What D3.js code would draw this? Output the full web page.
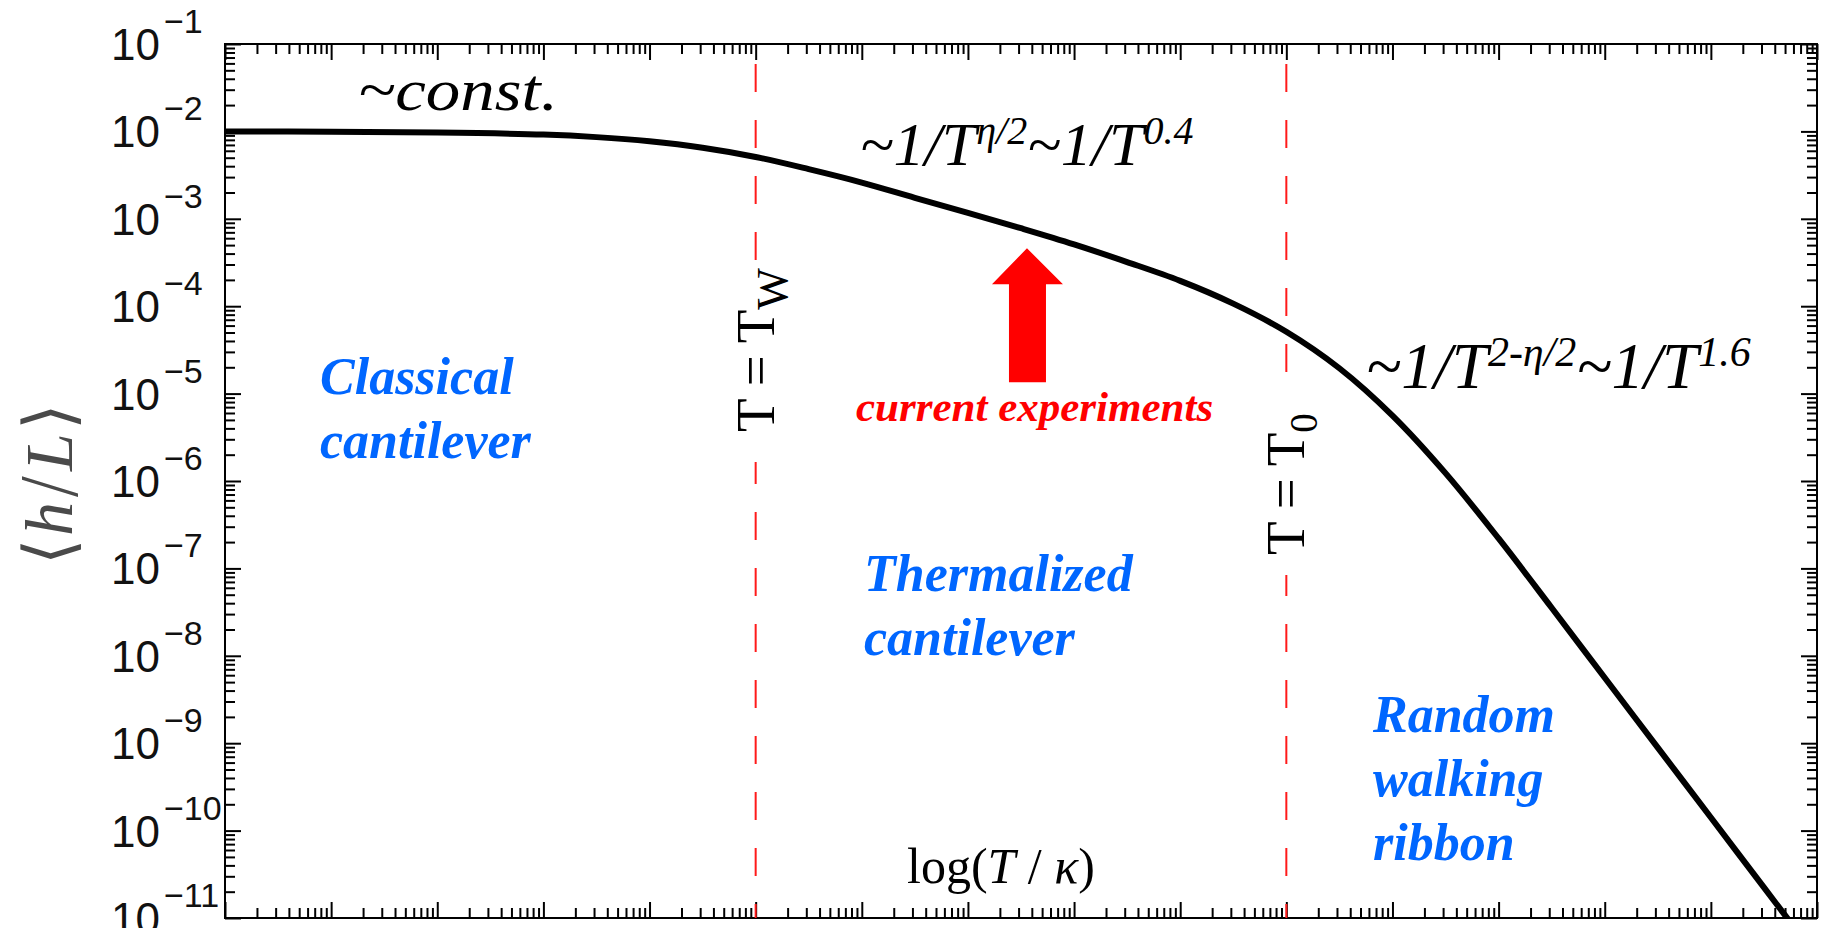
<!DOCTYPE html>
<html>
<head>
<meta charset="utf-8">
<script src="https://cdn.jsdelivr.net/npm/d3@7"></script>
<style>
  html, body { margin: 0; padding: 0; background: #fff; }
  svg { display: block; }
</style>
</head>
<body>
<svg id="chart" width="1822" height="928"></svg>
<script>
// Reduced temperature T/κ along the curve
const temperature = [1e0, 1e1, 1e2, 1e3, 3.16e3, 1e4, 3.16e4, 1e5, 3.16e5, 1e6, 3.16e6,
  1e7, 3.16e7, 1e8, 3.16e8, 1e9, 3.16e9, 1e10, 3.16e10, 1e11, 3.16e11, 1e12, 3.16e12,
  1e13, 3.16e13, 1e14, 3.16e14, 1e15];

// Mean height ⟨h/L⟩ at each temperature
const heightRatio = [1.00e-2, 9.9e-3, 9.7e-3, 9.2e-3, 8.6e-3, 7.7e-3, 6.5e-3, 5.1e-3, 3.7e-3,
  2.6e-3, 1.74e-3, 1.17e-3, 7.8e-4, 5.1e-4, 3.2e-4, 1.95e-4, 1.07e-4, 5.1e-5, 1.95e-5,
  5.6e-6, 1.23e-6, 2.2e-7, 3.55e-8, 5.6e-9, 8.9e-10, 1.41e-10, 2.24e-11, 3.55e-12];

// Crossover temperatures (Tw and T0)
const crossoverNames = ["W", "0"];
const crossoverT = [1e5, 1e10];

// Axis decades
const xDecades = [0, 1, 2, 3, 4, 5, 6, 7, 8, 9, 10, 11, 12, 13, 14, 15];
const yExponents = [-1, -2, -3, -4, -5, -6, -7, -8, -9, -10, -11];
const minorSteps = [2, 3, 4, 5, 6, 7, 8, 9];

// Position of the "current experiments" arrow tip
const arrowT = 3.6e7, arrowH = 4.6e-4;

const svg = d3.select("#chart");
const plot = { left: 225, top: 44, right: 1817, bottom: 918 };

const x = d3.scaleLog().domain([1e0, 1e15]).range([plot.left, plot.right]);
const y = d3.scaleLog().domain([1e-11, 1e-1]).range([plot.bottom, plot.top]);

const serif = "'Liberation Serif', 'Times New Roman', Times, serif";
const sans = "'Liberation Sans', Arial, Helvetica, sans-serif";

// ---- tick positions
const xMajor = xDecades.map(d => Math.pow(10, d));
const xMinor = [];
xDecades.slice(0, -1).forEach(d => minorSteps.forEach(m => xMinor.push(m * Math.pow(10, d))));
const yMajor = yExponents.map(e => Math.pow(10, e));
const yMinor = [];
yExponents.slice(1).forEach(e => minorSteps.forEach(m => yMinor.push(m * Math.pow(10, e))));

const majorLen = 16, minorLen = 10;

function styleAxis(g) {
  g.select(".domain").remove();
  g.selectAll("text").remove();
  g.selectAll("line").attr("stroke", "#000").attr("stroke-width", 2);
}

const axes = svg.append("g");
[[xMajor, majorLen], [xMinor, minorLen]].forEach(([vals, len]) => {
  axes.append("g").attr("transform", `translate(0,${plot.bottom})`)
    .call(d3.axisBottom(x).tickValues(vals).tickSize(-len).tickFormat("")).call(styleAxis);
  axes.append("g").attr("transform", `translate(0,${plot.top})`)
    .call(d3.axisTop(x).tickValues(vals).tickSize(-len).tickFormat("")).call(styleAxis);
});
[[yMajor, majorLen], [yMinor, minorLen]].forEach(([vals, len]) => {
  axes.append("g").attr("transform", `translate(${plot.left},0)`)
    .call(d3.axisLeft(y).tickValues(vals).tickSize(-len).tickFormat("")).call(styleAxis);
  axes.append("g").attr("transform", `translate(${plot.right},0)`)
    .call(d3.axisRight(y).tickValues(vals).tickSize(-len).tickFormat("")).call(styleAxis);
});

// frame
svg.append("rect")
  .attr("x", plot.left).attr("y", plot.top)
  .attr("width", plot.right - plot.left).attr("height", plot.bottom - plot.top)
  .attr("fill", "none").attr("stroke", "#000").attr("stroke-width", 2);

// y tick labels 10^n
const yLab = svg.append("g").selectAll("text").data(yExponents).join("text")
  .attr("x", 111).attr("y", e => y(Math.pow(10, e)) + 16)
  .attr("font-family", sans).attr("font-size", 44).attr("fill", "#111");
yLab.append("tspan").text("10");
yLab.append("tspan").attr("font-size", 34).attr("dx", 4).attr("dy", -27)
  .text(e => "\u2212" + Math.abs(e));

// y axis title ⟨h/L⟩
const yTitle = svg.append("text")
  .attr("transform", "translate(72,484) rotate(-90)")
  .attr("text-anchor", "middle")
  .attr("font-family", serif).attr("font-size", 68).attr("fill", "#4a4a4a");
const bracketFont = "'DejaVu Sans', sans-serif";
yTitle.append("tspan").attr("font-family", bracketFont).attr("font-weight", 200).text("\u27E8");
yTitle.append("tspan").attr("font-style", "italic").attr("dx", 2).text("h");
yTitle.append("tspan").attr("font-family", bracketFont).attr("font-weight", 200).attr("dx", 4).text("/");
yTitle.append("tspan").attr("font-style", "italic").attr("dx", 4).text("L");
yTitle.append("tspan").attr("font-family", bracketFont).attr("font-weight", 200).attr("dx", 3).text("\u27E9");

// crossover markers
svg.append("g").selectAll("line").data(crossoverT).join("line")
  .attr("x1", d => x(d)).attr("x2", d => x(d))
  .attr("y1", plot.top).attr("y2", plot.bottom)
  .attr("stroke", "#ff1a1a").attr("stroke-width", 2)
  .attr("stroke-dasharray", "28,28").attr("stroke-dashoffset", 36);

// labels T = Tw, T = T0 on white backing
const crossLabelY = [350, 484];
const crossSubSize = [44, 39];
const crossGapTop = [262, 397];
const crossGapBottom = [462, 575];
crossoverT.forEach((t, i) => {
  const cx = x(t);
  svg.append("rect")
    .attr("x", cx - 22).attr("y", crossGapTop[i])
    .attr("width", 46).attr("height", crossGapBottom[i] - crossGapTop[i])
    .attr("fill", "#fff");
  const lab = svg.append("text")
    .attr("transform", `translate(${cx + 18},${crossLabelY[i]}) rotate(-90)`)
    .attr("text-anchor", "middle")
    .attr("font-family", serif).attr("font-size", 55).attr("fill", "#000");
  lab.append("tspan").text("T");
  lab.append("tspan").attr("dx", 12).text("=");
  lab.append("tspan").attr("dx", 12).text("T");
  lab.append("tspan").attr("font-size", crossSubSize[i]).attr("dy", 13).text(crossoverNames[i]);
});

// curve
svg.append("clipPath").attr("id", "plotClip").append("rect")
  .attr("x", plot.left).attr("y", plot.top)
  .attr("width", plot.right - plot.left).attr("height", plot.bottom - plot.top);

const line = d3.line()
  .x((d, i) => x(temperature[i]))
  .y(d => y(d))
  .curve(d3.curveCatmullRom.alpha(0.5));

svg.append("path")
  .datum(heightRatio)
  .attr("clip-path", "url(#plotClip)")
  .attr("d", line)
  .attr("fill", "none").attr("stroke", "#000").attr("stroke-width", 6)
  .attr("stroke-linejoin", "round");

// scaling-law annotations
function powerLaw(x0, y0, size, parts) {
  const supSize = Math.round(size * 0.645), rise = Math.round(size * 0.34);
  const t = svg.append("text").attr("x", x0).attr("y", y0)
    .attr("font-family", serif).attr("font-style", "italic")
    .attr("font-size", size).attr("fill", "#000");
  parts.forEach(([txt, sup]) => {
    t.append("tspan").attr("font-size", sup ? supSize : size).attr("dy", sup ? -rise : rise).text(txt);
  });
  t.select("tspan").attr("dy", 0);
  return t;
}
svg.append("text").attr("x", 358).attr("y", 110)
  .attr("font-family", serif).attr("font-style", "italic").attr("font-size", 60)
  .attr("textLength", 200).attr("lengthAdjust", "spacingAndGlyphs")
  .attr("fill", "#000").text("~const.");
powerLaw(860, 165, 62, [["~1/T", false], ["\u03B7/2", true], ["~1/T", false], ["0.4", true]]);
powerLaw(1366, 388, 65, [["~1/T", false], ["2-\u03B7/2", true], ["~1/T", false], ["1.6", true]]);

// region names
const blue = "#0066ff";
function region(x0, y0, lines) {
  const t = svg.append("text").attr("font-family", serif).attr("font-style", "italic")
    .attr("font-weight", "bold").attr("font-size", 52).attr("fill", blue);
  lines.forEach((s, i) => t.append("tspan").attr("x", x0).attr("y", y0 + i * 64).text(s));
}
region(320, 394, ["Classical", "cantilever"]);
region(864, 591, ["Thermalized", "cantilever"]);
region(1373, 732, ["Random", "walking", "ribbon"]);

// current experiments arrow
const ax = x(arrowT), ay = y(arrowH);
svg.append("path")
  .attr("d", d3.line()([
    [ax, ay], [ax + 36, ay + 36], [ax + 19, ay + 36], [ax + 19, ay + 134],
    [ax - 18, ay + 134], [ax - 18, ay + 36], [ax - 35, ay + 36]
  ]) + "Z")
  .attr("fill", "#ff0000");
svg.append("text").attr("x", 856).attr("y", 421)
  .attr("font-family", serif).attr("font-style", "italic").attr("font-weight", "bold")
  .attr("font-size", 43).attr("fill", "#ff0000").text("current experiments");

// x axis title inside the frame
const xt = svg.append("text").attr("x", 907).attr("y", 883)
  .attr("font-family", serif).attr("font-size", 50).attr("fill", "#000");
xt.append("tspan").text("log(");
xt.append("tspan").attr("font-style", "italic").text("T");
xt.append("tspan").text(" / ");
xt.append("tspan").attr("font-style", "italic").text("\u03BA");
xt.append("tspan").text(")");
</script>
</body>
</html>
